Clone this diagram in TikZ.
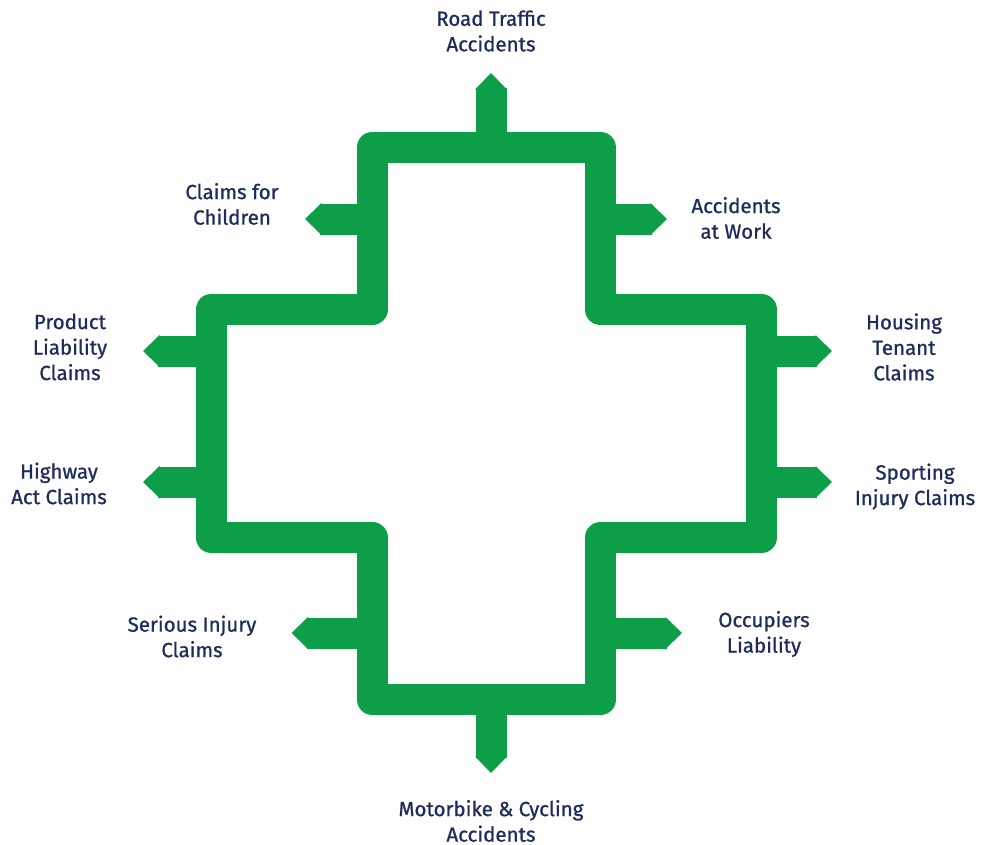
\documentclass[tikz,border=0pt]{standalone}
\usepackage{fontspec}
\newfontfamily\lblfont[FakeBold=0.9]{Fira Sans}
\usetikzlibrary{arrows.meta}
\definecolor{crossgreen}{RGB}{13,158,72}
\definecolor{labelblue}{RGB}{30,44,92}
\tikzset{
  cross/.style={draw=crossgreen, line width=31pt, line join=round},
  stub/.style={draw=crossgreen, line width=31pt,
    -{Triangle[length=16.5pt, width=31pt, color=crossgreen]}},
  lbl/.style={text=labelblue, align=center, inner sep=0pt,
    font=\lblfont\fontsize{20.5}{25.5}\selectfont}
}
\begin{document}
\begin{tikzpicture}[x=1pt, y=-1pt]
    \useasboundingbox (0,0) rectangle (991,844);

    % Croce
    \draw[cross] (372,147.5) -- (600.5,147.5) -- (600.5,309.5) -- (761.5,309.5)
      -- (761.5,537.5) -- (600.5,537.5) -- (600.5,699.5) -- (372,699.5)
      -- (372,537.5) -- (211,537.5) -- (211,309.5) -- (372,309.5) -- cycle;

    % Punti
    \coordinate (roadS) at (491,147.5);   \coordinate (roadT) at (491,73);
    \coordinate (childS) at (372,219);    \coordinate (childT) at (305,219);
    \coordinate (workS) at (600.5,219);   \coordinate (workT) at (667,219);
    \coordinate (prodS) at (211,351);     \coordinate (prodT) at (143,351);
    \coordinate (housS) at (761.5,351);   \coordinate (housT) at (832,351);
    \coordinate (highS) at (211,482);     \coordinate (highT) at (143,482);
    \coordinate (sportS) at (761.5,482);  \coordinate (sportT) at (832,482);
    \coordinate (serS) at (372,633);      \coordinate (serT) at (291.5,633);
    \coordinate (occS) at (600.5,633);    \coordinate (occT) at (682,633);
    \coordinate (motoS) at (491,699.5);   \coordinate (motoT) at (491,773);

    % Frecce
    \draw[stub] (roadS) -- (roadT);
    \draw[stub] (childS) -- (childT);
    \draw[stub] (workS) -- (workT);
    \draw[stub] (prodS) -- (prodT);
    \draw[stub] (housS) -- (housT);
    \draw[stub] (highS) -- (highT);
    \draw[stub] (sportS) -- (sportT);
    \draw[stub] (serS) -- (serT);
    \draw[stub] (occS) -- (occT);
    \draw[stub] (motoS) -- (motoT);

    % Etichette
    \node[lbl] (road) at (491,31) {Road Traffic\\Accidents};
    \node[lbl] (child) at (232,204) {Claims for\\Children};
    \node[lbl] (work) at (736,218) {Accidents\\at Work};
    \node[lbl] (prod) at (70,347) {Product\\Liability\\Claims};
    \node[lbl] (hous) at (904,347) {Housing\\Tenant\\Claims};
    \node[lbl] (high) at (59,483.5) {Highway\\Act Claims};
    \node[lbl] (sport) at (915,486.5) {Sporting\\Injury Claims};
    \node[lbl] (ser) at (192,636.5) {Serious Injury\\Claims};
    \node[lbl] (occ) at (764,634) {Occupiers\\Liability};
    \node[lbl] (moto) at (491,821) {Motorbike \& Cycling\\Accidents};
  \end{tikzpicture}
\end{document}
